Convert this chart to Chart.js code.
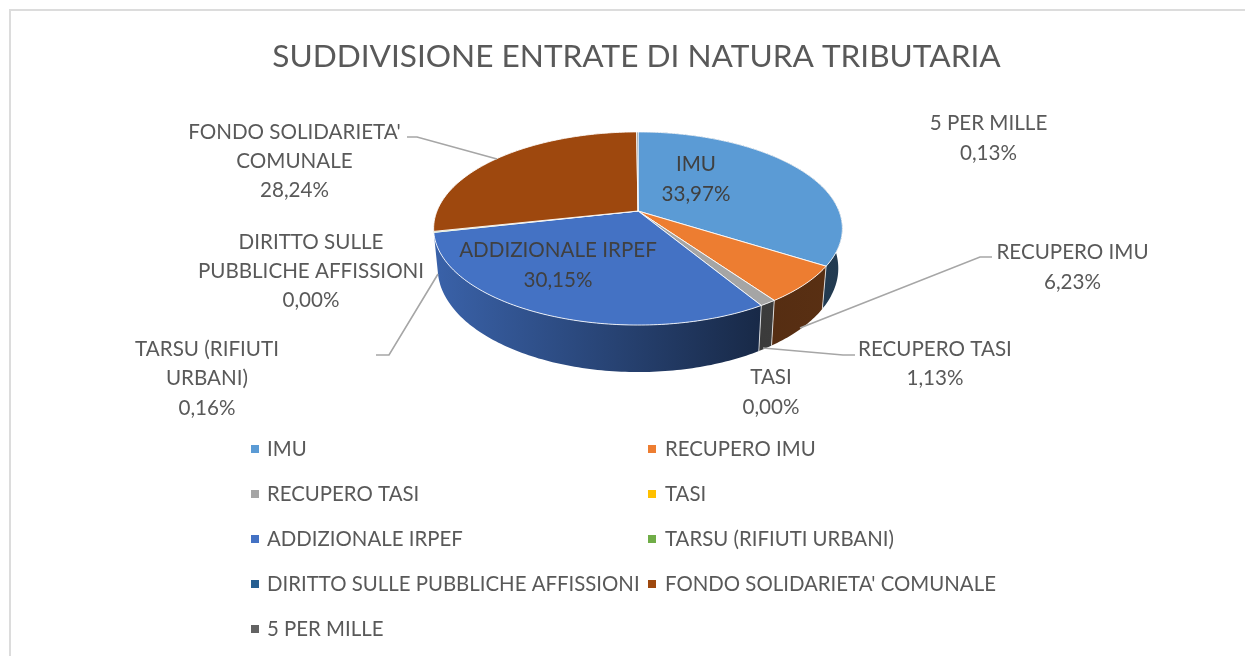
<!DOCTYPE html>
<html><head><meta charset="utf-8">
<style>
html,body{margin:0;padding:0;background:#fff;overflow:hidden;width:1245px;height:656px}
#frame{position:absolute;left:9px;top:9px;width:1400px;height:800px;border:2px solid #dcdcdc;box-sizing:border-box}
#wrap{position:absolute;left:0;top:0;width:1245px;height:656px}
</style>
<script src="https://cdn.jsdelivr.net/npm/chart.js@4"></script>
</head><body>
<div id="frame"></div>
<div id="wrap"><canvas id="c" width="1245" height="656"></canvas></div>
<script>
const categories = ["IMU","RECUPERO IMU","RECUPERO TASI","TASI","ADDIZIONALE IRPEF","TARSU (RIFIUTI URBANI)","DIRITTO SULLE PUBBLICHE AFFISSIONI","FONDO SOLIDARIETA' COMUNALE","5 PER MILLE"];
const values = [33.97,6.23,1.13,0.00,30.15,0.16,0.00,28.24,0.13];
const colors = ["#5B9BD5","#ED7D31","#A5A5A5","#FFC000","#4472C4","#70AD47","#255E91","#9E480E","#636363"];
const titleText = "SUDDIVISIONE ENTRATE DI NATURA TRIBUTARIA";

const FONT = "Lato";
const TEXT = "#595959", TEXT_IN = "#404040";
const LABEL_SIZE = 20.6, LEGEND_SIZE = 20.4;
// data-label layout: category index, wrapped lines, centre x, line centres y
const labelLayout = [
  {i:8, lines:["5 PER MILLE"], x:988.5, y:[123.5,153.5]},
  {i:7, lines:["FONDO SOLIDARIETA'","COMUNALE"], x:294.5, y:[132.5,161.5,190.5]},
  {i:0, lines:["IMU"], x:696, y:[164.5,194.5], inside:true},
  {i:4, lines:["ADDIZIONALE IRPEF"], x:558, y:[250.5,280.5], inside:true},
  {i:6, lines:["DIRITTO SULLE","PUBBLICHE AFFISSIONI"], x:311, y:[242.5,271.5,300.5]},
  {i:5, lines:["TARSU (RIFIUTI","URBANI)"], x:207, y:[349.5,378.5,408.5]},
  {i:1, lines:["RECUPERO IMU"], x:1072.5, y:[252.5,282.5]},
  {i:2, lines:["RECUPERO TASI"], x:935, y:[349.5,378.5]},
  {i:3, lines:["TASI"], x:771, y:[377.5,407.5]}
];
const leaders = [
  [[407,137],[417,137],[497,159]],
  [[376,355],[389,355],[438,274]],
  [[992,257],[980,257],[800,328]],
  [[855,355],[843,355],[763,348]]
];
const legendSwatchX = [251,648], legendTextX = [267,665], legendRowY = [449.5,494.5,539.5,584.5,629.5], swatch = 8;

// perspective projection of the pie disc
const PIE = {cx:638, cy:211, rx:201, ry:93.4, k:0.181, depth:38.5, shrink:0.98, wallEnd:250*Math.PI/180};
function rimTop(t){const w=1+PIE.k*Math.cos(t);return [PIE.cx+PIE.rx*Math.sin(t)/w, PIE.cy-PIE.ry*Math.cos(t)/w];}
function rimBot(t){const w=1+PIE.k*Math.cos(t);const p=rimTop(t);return [PIE.cx+(p[0]-PIE.cx)*PIE.shrink, p[1]+PIE.depth/w];}
function mul(hex,f){const n=parseInt(hex.slice(1),16);return `rgb(${Math.round((n>>16)*f)},${Math.round(((n>>8)&255)*f)},${Math.round((n&255)*f)})`;}

const pie3d = {
  id:'pie3d',
  beforeDatasetDraw(){return false;},
  afterDatasetsDraw(chart){
    const ctx=chart.ctx, arcs=chart.getDatasetMeta(0).data;
    const seg=a=>{const t0=a.startAngle+Math.PI/2,t1=a.endAngle+Math.PI/2,n=Math.max(2,Math.ceil((t1-t0)*60));
      return Array.from({length:n+1},(_,j)=>t0+(t1-t0)*j/n);};
    const mid=a=>(a.startAngle+a.endAngle)/2+Math.PI/2;
    ctx.save(); ctx.lineJoin='round';
    arcs.forEach((a,i)=>{
      if(a.endAngle-a.startAngle<=0 || mid(a)>PIE.wallEnd) return;
      const ts=seg(a), g=ctx.createLinearGradient(434,0,843,0), c=colors[i];
      g.addColorStop(0,mul(c,.86)); g.addColorStop(.8,mul(c,.36)); g.addColorStop(1,mul(c,.38));
      ctx.beginPath();
      ts.forEach((t,j)=>{const p=rimTop(t); j?ctx.lineTo(p[0],p[1]):ctx.moveTo(p[0],p[1]);});
      ts.slice().reverse().forEach(t=>{const p=rimBot(t);ctx.lineTo(p[0],p[1]);});
      ctx.closePath(); ctx.fillStyle=g; ctx.fill();
    });
    ctx.strokeStyle='rgba(255,255,255,.75)'; ctx.lineWidth=1;
    arcs.forEach(a=>{
      if(a.endAngle-a.startAngle<=0 || mid(a)>PIE.wallEnd) return;
      const t=a.startAngle+Math.PI/2;
      if(Math.cos(t)>0) return;
      const p=rimTop(t),q=rimBot(t); ctx.beginPath();ctx.moveTo(p[0],p[1]);ctx.lineTo(q[0],q[1]);ctx.stroke();
    });
    arcs.forEach((a,i)=>{
      if(a.endAngle-a.startAngle<=0) return;
      ctx.beginPath(); ctx.moveTo(PIE.cx,PIE.cy);
      seg(a).forEach(t=>{const p=rimTop(t);ctx.lineTo(p[0],p[1]);});
      ctx.closePath(); ctx.fillStyle=colors[i]; ctx.fill();
      ctx.strokeStyle='rgba(255,255,255,.85)'; ctx.lineWidth=1; ctx.stroke();
    });
    ctx.restore();
  },
  afterDraw(chart){
    const ctx=chart.ctx, ds=chart.data.datasets[0].data;
    ctx.save();
    ctx.strokeStyle='#A6A6A6'; ctx.lineWidth=1.6;
    leaders.forEach(l=>{ctx.beginPath();l.forEach((p,j)=>j?ctx.lineTo(p[0],p[1]):ctx.moveTo(p[0],p[1]));ctx.stroke();});
    ctx.textAlign='center'; ctx.textBaseline='middle'; ctx.font=`${LABEL_SIZE}px ${FONT}`;
    labelLayout.forEach(l=>{
      ctx.fillStyle=l.inside?TEXT_IN:TEXT;
      l.lines.concat([ds[l.i].toFixed(2).replace('.',',')+'%']).forEach((s,j)=>ctx.fillText(s,l.x,l.y[j]));
    });
    ctx.textAlign='left'; ctx.font=`${LEGEND_SIZE}px ${FONT}`;
    chart.data.labels.forEach((s,i)=>{
      const c=i%2, y=legendRowY[Math.floor(i/2)];
      ctx.fillStyle=colors[i]; ctx.fillRect(legendSwatchX[c],Math.round(y)-5,swatch,swatch);
      ctx.fillStyle=TEXT; ctx.fillText(s,legendTextX[c],y);
    });
    ctx.restore();
  }
};

new Chart(document.getElementById('c'),{
  type:'pie',
  data:{labels:categories,datasets:[{data:values,backgroundColor:colors,borderWidth:0}]},
  plugins:[pie3d],
  options:{
    responsive:false,animation:false,
    rotation:0,circumference:360,
    layout:{padding:{left:28,top:0,right:0,bottom:244}},
    plugins:{
      legend:{display:false},tooltip:{enabled:false},
      title:{display:true,text:titleText,color:TEXT,font:{family:FONT,size:31.6,weight:'normal'},padding:{top:37.5,bottom:10}}
    }
  }
});
</script>
</body></html>
